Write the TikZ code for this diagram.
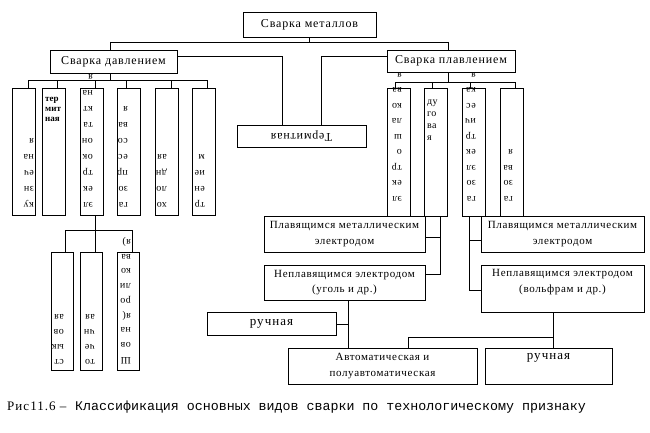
\documentclass[tikz,border=0pt]{standalone}
\usepackage{fontspec}
\usepackage{graphicx}
\setmainfont{Liberation Serif}
\newfontfamily\bigfont[LetterSpace=7]{Liberation Serif}
\newfontfamily\midfont[LetterSpace=6]{Liberation Serif}
\newfontfamily\rucfont[LetterSpace=8]{Liberation Serif}
\newfontfamily\rotfont[LetterSpace=4]{Liberation Serif}
\newfontfamily\capserif[LetterSpace=8]{Liberation Serif}
\newfontfamily\capmono{Liberation Mono}
\tikzset{
  box/.style={draw, line width=0.9pt, inner sep=0pt, align=center},
  conn/.style={draw, line width=0.9pt},
  big/.style={font=\bigfont\fontsize{12}{14}\selectfont},
  mid/.style={font=\midfont\fontsize{11}{15.5}\selectfont},
  ruc/.style={font=\rucfont\fontsize{13}{15}\selectfont},
  rtA/.style={rotate=180, align=left, inner sep=0pt, font=\rotfont\fontsize{10}{16}\selectfont},
  rtB/.style={rotate=180, align=left, inner sep=0pt, font=\rotfont\fontsize{10}{15.5}\selectfont},
  rtC/.style={rotate=180, align=left, inner sep=0pt, font=\rotfont\fontsize{10}{14.75}\selectfont},
}
\begin{document}
\begin{tikzpicture}[x=1pt,y=-1pt]
\useasboundingbox (0,0) rectangle (650,433);
% main boxes
\node[box, big, minimum width=133pt, minimum height=25pt] (top) at (309.5,24.5) {Сварка металлов};
\node[box, big, minimum width=127pt, minimum height=23pt] (davl) at (113.5,61.5) {Сварка давлением};
\node[box, big, minimum width=128pt, minimum height=22pt] (plav) at (451,61) {Сварка плавлением};
\node[box, font=\bigfont\fontsize{12}{14}\selectfont, minimum width=129pt, minimum height=22pt] (term) at (301.5,136) {\rotatebox{180}{Термитная}};
% pressure group
\foreach \n/\cx in {d1/23.5,d2/53.5,d3/92,d4/129,d5/167,d6/204}
  \node[box, minimum width=23pt, minimum height=127pt] (\n) at (\cx,151.5) {};
% fusion group
\foreach \n/\cx in {p1/398.5,p2/436,p3/473.5,p4/511.5}
  \node[box, minimum width=23pt, minimum height=128pt] (\n) at (\cx,152) {};
% lower-left group
\foreach \n/\cx in {l1/62,l2/91,l3/128.5}
  \node[box, minimum width=22pt, minimum height=118pt] (\n) at (\cx,311) {};
% lower boxes
\node[box, mid, minimum width=161pt, minimum height=36pt] (plavL) at (344.5,234) {Плавящимся металлическим\\электродом};
\node[box, mid, minimum width=161pt, minimum height=35pt] (neplL) at (344.5,282.5) {Неплавящимся электродом\\(уголь и др.)};
\node[box, ruc, minimum width=129pt, minimum height=23pt] (ruchL) at (271.5,323.5) {ручная};
\node[box, mid, minimum width=189pt, minimum height=36pt] (auto) at (382.5,366) {Автоматическая и\\полуавтоматическая};
\node[box, mid, minimum width=163pt, minimum height=36pt] (plavR) at (562.5,234) {Плавящимся металлическим\\электродом};
\node[box, minimum width=163pt, minimum height=47pt] (neplR) at (562.5,288.5) {};
\node[mid, align=center, inner sep=0pt] (neplRt) at (562.5,282) {Неплавящимся электродом\\(вольфрам и др.)};
\node[box, minimum width=127pt, minimum height=36pt] (ruchR) at (548.5,366) {};
\node[ruc, inner sep=0pt] (ruchRt) at (548.5,358) {ручная};
% texts in narrow boxes
\node[rtA, anchor=north west] (d1x) at (34,207) {ку\\зн\\еч\\на\\я};
\node[anchor=north west, inner sep=0pt, align=left, font=\bfseries\fontsize{9}{10}\selectfont] (d2x) at (45,97.5) {тер\\мит\\ная};
\node[rtA, anchor=north west] (d3x) at (93,207) {эл\\ек\\тр\\ок\\он\\та\\кт\\на\\я};
\node[rtA, anchor=north west] (d4x) at (128,207) {га\\зо\\пр\\ес\\со\\ва\\я};
\node[rtA, anchor=north west] (d5x) at (167,207) {хо\\ло\\дн\\ая};
\node[rtA, anchor=north west] (d6x) at (205,207) {тр\\ен\\ие\\м};
\node[rtB, anchor=north west] (p1x) at (402,201) {эл\\ек\\тр\\о\\ш\\ла\\ко\\ва\\я};
\node[anchor=north west, inner sep=0pt, align=left, font=\rotfont\fontsize{10}{12}\selectfont] (p2x) at (427,100) {ду\\го\\ва\\я};
\node[rtB, anchor=north west] (p3x) at (476,201) {га\\зо\\эл\\ек\\тр\\ич\\ес\\ка\\я};
\node[rtB, anchor=north west] (p4x) at (513,201) {га\\зо\\ва\\я};
\node[rtC, anchor=north west] (l1x) at (64,364) {ст\\ык\\ов\\ая};
\node[rtC, anchor=north west] (l2x) at (95,364) {то\\че\\чн\\ая};
\node[rtC, anchor=north west] (l3x) at (131,364) {Ш\\ов\\на\\я(\\ро\\ли\\ко\\ва\\я)};
% connectors: top level
\coordinate (t1) at (110,42);
\coordinate (t2) at (448,42);
\draw[conn] (top.south) -- (top.south |- t1);
\draw[conn] (t1) -- (t2);
\draw[conn] (t1) -- (t1 |- davl.north);
\draw[conn] (t2) -- (t2 |- plav.north);
\coordinate (k1) at (282,56);
\coordinate (k2) at (321,56);
\draw[conn] (davl.east |- k1) -- (k1) -- (k1 |- term.north);
\draw[conn] (plav.west |- k2) -- (k2) -- (k2 |- term.north);
% pressure bus
\coordinate (b1) at (110,80);
\draw[conn] (b1 |- davl.south) -- (b1);
\coordinate (d1c) at ([xshift=4.5pt]d1.north);
\coordinate (d2c) at ([xshift=3.5pt]d2.north);
\coordinate (d3c) at ([xshift=3.5pt]d3.north);
\coordinate (d4c) at ([xshift=-3pt]d4.north);
\coordinate (d5c) at ([xshift=4pt]d5.north);
\coordinate (d6c) at ([xshift=3pt]d6.north);
\draw[conn] (d1c |- b1) -- (d6c |- b1);
\foreach \c in {d1c,d2c,d3c,d4c,d5c,d6c} \draw[conn] (\c) -- (\c |- b1);
% fusion bus
\coordinate (b2) at (448,82);
\draw[conn] (b2 |- plav.south) -- (b2);
\coordinate (p1c) at ([xshift=-3.5pt]p1.north);
\coordinate (p2c) at ([xshift=-4pt]p2.north);
\coordinate (p3c) at ([xshift=-3.5pt]p3.north);
\coordinate (p4c) at ([xshift=3.5pt]p4.north);
\draw[conn] (p1c |- b2) -- (p4c |- b2);
\foreach \c in {p1c,p2c,p3c,p4c} \draw[conn] (\c) -- (\c |- b2);
% lower-left cluster
\coordinate (b3) at (95.5,230);
\draw[conn] (b3 |- d3.south) -- (b3 |- l2.north);
\coordinate (l1c) at ([xshift=3pt]l1.north);
\coordinate (l3c) at ([xshift=3.5pt]l3.north);
\draw[conn] (l1c |- b3) -- (l3c |- b3);
\draw[conn] (l1c |- b3) -- (l1c);
\draw[conn] (l3c |- b3) -- (l3c);
% arc welding branches
\coordinate (c1a) at (440,237);
\coordinate (c1b) at (440,274);
\draw[conn] (c1a |- p2.south) -- (c1b) -- (neplL.east |- c1b);
\draw[conn] (c1a) -- (plavL.east |- c1a);
\coordinate (c2a) at (469,240);
\coordinate (c2b) at (469,290);
\draw[conn] (c2a |- p3.south) -- (c2b) -- (neplR.west |- c2b);
\draw[conn] (c2a) -- (plavR.west |- c2a);
% bottom branches
\coordinate (e1) at (348,324);
\draw[conn] (e1 |- neplL.south) -- (e1 |- auto.north);
\draw[conn] (ruchL.east |- e1) -- (e1);
\coordinate (e2) at (553,337);
\coordinate (e3) at (408,337);
\draw[conn] (e2 |- neplR.south) -- (e2 |- ruchR.north);
\draw[conn] (e2) -- (e3) -- (e3 |- auto.north);
% caption
\node[anchor=base west, inner sep=0pt, font=\capserif\fontsize{13}{15}\selectfont] (cap1) at (7,410) {Рис11.6 –};
\node[anchor=base west, inner sep=0pt, font=\capmono\fontsize{13.3}{15}\selectfont] (cap2) at (75,410) {Классификация основных видов сварки по технологическому признаку};
\end{tikzpicture}
\end{document}
